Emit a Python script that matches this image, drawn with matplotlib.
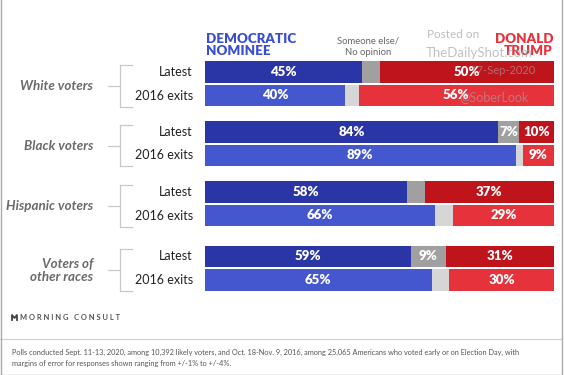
import matplotlib
matplotlib.use("Agg")
import matplotlib.pyplot as plt

plt.rcParams['font.family'] = ['Lato', 'DejaVu Sans']

groups = ['White voters', 'Black voters', 'Hispanic voters', 'Voters of\nother races']
rows = ['Latest', '2016 exits']
dem = [[45, 40], [84, 89], [58, 66], [59, 65]]
trump = [[50, 56], [10, 9], [37, 29], [31, 30]]
other_lbl = [[None, None], ['7%', None], [None, None], ['9%', None]]

W, H = 564, 375
fig = plt.figure(figsize=(W / 100, H / 100), dpi=100)

# overlay in pixel coords for the text / frame
ov = fig.add_axes([0, 0, 1, 1])
ov.set_xlim(0, W)
ov.set_ylim(H, 0)
ov.axis('off')

# bar axes: x in percent, y in pixel rows
x0, x1, y0, y1 = 205, 554, 40, 300
ax = fig.add_axes([x0 / W, 1 - y1 / H, (x1 - x0) / W, (y1 - y0) / H])
ax.set_xlim(0, 100)
ax.set_ylim(y1, y0)
ax.axis('off')

dem_c = ['#2b36a6', '#4557cf']
oth_c = ['#a0a0a0', '#d6d6d6']
tr_c = ['#c0141c', '#e5323b']

group_y = [72, 131.8, 192, 256.3]
row_gap = 23.5
bh = 21.5
for g, gy in enumerate(group_y):
    for r in range(2):
        y = gy + r * row_gap
        d, t = dem[g][r], trump[g][r]
        ax.barh(y, d, height=bh, color=dem_c[r], lw=0)
        ax.barh(y, 100 - t - d, left=d, height=bh, color=oth_c[r], lw=0)
        ax.barh(y, t, left=100 - t, height=bh, color=tr_c[r], lw=0)
        ax.text(d / 2, y, f'{d}%', color='white', fontsize=9.5, fontweight='heavy',
                ha='center', va='center')
        ax.text(100 - t / 2, y, f'{t}%', color='white', fontsize=9.5, fontweight='heavy',
                ha='center', va='center')
        if other_lbl[g][r]:
            ax.text((d + 100 - t) / 2, y, other_lbl[g][r], color='white', fontsize=9.5,
                    fontweight='heavy', ha='center', va='center')
        ov.text(193, y, rows[r], fontsize=9, color='#222222', ha='right', va='center')
    top, bot = gy - 7, gy + row_gap + 11
    mid = (top + bot) / 2
    ov.plot([120, 120], [top, bot], color='#c8c8c8', lw=0.9)
    ov.plot([120, 132], [top, top], color='#c8c8c8', lw=0.9)
    ov.plot([120, 132], [bot, bot], color='#c8c8c8', lw=0.9)
    ov.plot([108, 120], [mid, mid], color='#c8c8c8', lw=0.9)
    ov.text(93, mid, groups[g], fontsize=9.6, color='#6a6a6a', fontweight='bold',
            style='italic', ha='right', va='center', linespacing=1.1)

# header
ov.text(206, 45, 'DEMOCRATIC\nNOMINEE', color='#3a4fd0', fontsize=9.6, fontweight='heavy',
        ha='left', va='center', linespacing=1.0)
ov.text(553, 45, 'DONALD\nTRUMP', color='#e8323c', fontsize=9.6, fontweight='heavy',
        ha='right', va='center', linespacing=1.0, multialignment='right')
ov.text(368, 47, 'Someone else/\nNo opinion', color='#666666', fontsize=6.8,
        ha='center', va='center', linespacing=1.3)

# watermark, drawn above the bars
top_ax = fig.add_axes([0, 0, 1, 1])
top_ax.set_xlim(0, W)
top_ax.set_ylim(H, 0)
top_ax.axis('off')
top_ax.patch.set_alpha(0)
wm = '#a8a8a8'
top_ax.text(427, 35, 'Posted on', color=wm, fontsize=8.5, ha='left', va='center', alpha=0.75)
top_ax.text(426, 53, 'TheDailyShot.com', color=wm, fontsize=9.5, ha='left', va='center', alpha=0.7)
top_ax.text(470, 71, '17-Sep-2020', color=wm, fontsize=8, ha='left', va='center', alpha=0.6)
top_ax.text(459, 97, '@SoberLook', color=wm, fontsize=9, ha='left', va='center', alpha=0.6)

# logo + footer
ov.plot([12, 12, 14.5, 17, 17], [320, 315, 318, 315, 320], color='#444444', lw=1.3)
ov.text(20, 318, 'M O R N I N G   C O N S U L T', color='#555555', fontsize=5.4,
        fontweight='bold', ha='left', va='center')
ov.plot([0, 562], [339, 339], color='#d0d0d0', lw=0.8)
ov.text(12, 358, 'Polls conducted Sept. 11-13, 2020, among 10,392 likely voters, and Oct. 18-Nov. 9, 2016, '
        'among 25,065 Americans who voted early or on Election Day, with\n'
        'margins of error for responses shown ranging from +/-1% to +/-4%.',
        color='#555555', fontsize=5.3, ha='left', va='center', linespacing=1.6)

# frame
ov.plot([0.5, 0.5], [0, 374.5], color='#aaaaaa', lw=1)
ov.plot([562, 562], [0, 374.5], color='#aaaaaa', lw=1)
ov.plot([0.5, 562], [374.5, 374.5], color='#aaaaaa', lw=1)

fig.savefig('out.png', dpi=100)
